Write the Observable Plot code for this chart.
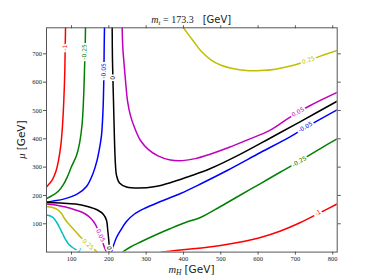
<!DOCTYPE html>
<html><head><meta charset="utf-8">
<script src="https://cdn.jsdelivr.net/npm/d3@7"></script>
<script src="https://cdn.jsdelivr.net/npm/@observablehq/plot@0.6"></script>
<style>body{margin:0;background:#fff}</style>
</head><body><div id="chart"></div>
<script>
// Tick values
const xTicks = [100, 200, 300, 400, 500, 600, 700, 800];
const yTicks = [100, 200, 300, 400, 500, 600, 700];

// Contour levels and colours
const levels = [-1, -0.25, -0.05, 0, 0.05, 0.25, 1];
const levelColors = ["#ff0000", "#008000", "#0000ff", "#000000", "#bf00bf", "#bfbf00", "#00bfbf"];

// Contour branches: [mH, mu]
const red_upper = [[84,792],[83.2,729],[82.1,641],[79.4,535],[75.9,447],[71.9,383],[65.2,323.5],[59,288],[49.9,258.7],[41,242],[33,230]];
const red_lower = [[341.1,0],[378.6,5.6],[418.8,11],[459,16.2],[499.2,23.3],[552.8,35.7],[606.4,51.5],[660,74.5],[713.5,104.5],[761.8,136.3],[811.8,169.8]];
const green_upper = [[137.5,792],[136.7,729],[134.8,641],[132.1,535],[128.1,447],[121.4,383],[113.4,341],[100,302],[89.3,267],[78.6,239],[65.2,216],[49.1,200],[33,189]];
const green_lower = [[236.6,0],[258,18],[284.9,35.7],[325,60.4],[365.2,83.3],[405.4,104.5],[445.6,122],[499.2,161],[552.8,201.6],[606.4,242],[660,282.8],[713.5,323.3],[767,365.7],[811.8,400]];
const blue_upper = [[188.4,792],[187.6,729],[186.5,605],[184.4,500],[180.4,412],[175,366],[168.3,323],[157.6,277.5],[140.2,231.6],[116.1,205.7],[81.2,188],[49.1,180],[33,177]];
const blue_lower = [[207.2,0],[212.5,23.3],[220.6,51.5],[231.3,76.2],[247.3,108],[268.8,134.5],[298.2,155.7],[338.4,178.6],[392,206.9],[445.6,240.4],[517.1,288],[606.4,351.6],[686.7,408],[726.9,439.8],[811.8,502.3]];
const black_upper = [[209,792],[209.8,676],[212.5,535],[215.2,394],[217.9,305.7],[220.6,271],[228.6,244],[247.3,230],[279.5,226],[325,231.6],[370.6,247.5],[418.8,268.6],[472.4,295],[552.8,346],[633,403],[713.5,461],[811.8,532.7]];
const black_lower = [[33,175],[70.5,173.3],[110.7,169.8],[142.9,161],[169.7,148.6],[185.7,132.7],[193.8,112.2],[197.2,76.2],[199.9,41],[201.8,0]];
const magenta_upper = [[235.8,792],[237.2,729],[240.1,676],[244.7,606],[250,535],[258,482],[268.8,440],[284.9,394],[306.3,362],[333.1,339],[365.2,325],[397.4,323],[432.2,330],[469.4,344.5],[523,370],[576.5,399],[630.1,429],[683.7,475],[737.2,516],[811.8,564]];
const magenta_lower = [[33,169.8],[57.1,166.3],[83.9,159.2],[110.7,148.6],[134.8,136.3],[150.9,120.4],[164.3,97.4],[175,65.7],[183,37.4],[188.4,16.2],[193.8,0]];
const yellow_upper = [[400,792],[413.4,768],[429.5,740],[448.3,708],[472.4,680],[499.2,660.5],[531.3,648],[568.8,641],[606.4,641],[646.5,646],[686.7,657],[726.9,673],[767,692],[811.8,712]];
const yellow_lower = [[33,161],[49.1,157.4],[62.5,150.4],[73.2,136.3],[81.2,118.6],[89.3,104.5],[100,88.6],[113.4,69.2],[124.1,53.3],[140.2,33.9],[156.3,14.5],[169.7,0]];
const cyan_lower = [[33,131],[43.7,127.4],[51.8,120.4],[59.8,106.3],[67.9,86.8],[75.9,65.7],[83.9,44.5],[92,28.6],[102.7,16.2],[113.4,7.4],[124.1,0]];

const branches = [
  [red_upper, 0], [red_lower, 0],
  [green_upper, 1], [green_lower, 1],
  [blue_upper, 2], [blue_lower, 2],
  [black_upper, 3], [black_lower, 3],
  [magenta_upper, 4], [magenta_lower, 4],
  [yellow_upper, 5], [yellow_lower, 5],
  [cyan_lower, 6]
];

// Inline contour labels
const labelText  = ["-1", "-0.25", "-0.05", "0", "0.05", "-0.05", "-0.25", "-1", "0.25", "0", "0.05", "0.25", "1"];
const labelLevel = [0, 1, 2, 3, 4, 2, 1, 0, 5, 3, 4, 5, 6];
const labelMH    = [82.6, 134.8, 186.5, 210.6, 706.8, 726.9, 710.8, 760.4, 734.9, 201, 177.7, 144.2, 121.4];
const labelMu    = [722, 707, 640, 615, 494.6, 441.6, 319.8, 138, 678, 14.5, 58.6, 26.8, 5.6];
const labelAngle = [-89, -89, -89, -89, -29, -29, -31, -27, -20, 85, 65, 42, 35];

const lineMarks = branches.map(([pts, li]) =>
  Plot.line(pts, {x: d => d[0], y: d => d[1], stroke: levelColors[li], strokeWidth: 1.5, curve: "catmull-rom", clip: true})
);
const idx = labelText.map((_, i) => i);

const chart = Plot.plot({
  width: 374, height: 280,
  marginLeft: 46, marginRight: 37.3, marginTop: 27.3, marginBottom: 28.4,
  x: {domain: [33, 812]},
  y: {domain: [0, 792]},
  color: {type: "identity"},
  style: {fontFamily: "Liberation Serif", fontSize: "6.5px", background: "white", color: "#222"},
  marks: [
    ...lineMarks,
    Plot.text(idx, {
      x: i => labelMH[i], y: i => labelMu[i], text: i => labelText[i],
      rotate: i => labelAngle[i], fill: i => levelColors[labelLevel[i]],
      stroke: "white", strokeWidth: 3.5, fontSize: 6, fontFamily: "DejaVu Sans"
    }),
    Plot.frame({stroke: "#555", strokeWidth: 1}),
    Plot.axisX({ticks: xTicks, tickSize: 3, tickPadding: 1.5, label: null, stroke: "#555"}),
    Plot.axisX({anchor: "top", ticks: xTicks, tickSize: 3, tickFormat: () => "", label: null, stroke: "#555"}),
    Plot.axisY({ticks: yTicks, tickSize: 3, tickPadding: 1.5, label: null, stroke: "#555"}),
    Plot.axisY({anchor: "right", ticks: yTicks, tickSize: 3, tickFormat: () => "", label: null, stroke: "#555"})
  ]
});
document.getElementById("chart").appendChild(chart);

const svg = d3.select(chart);
// Title
const t = svg.append("text").attr("x", 191.3).attr("y", 23).attr("text-anchor", "middle")
  .attr("font-size", 10).attr("fill", "#222").style("white-space", "pre");
t.append("tspan").attr("font-family", "Liberation Serif").attr("font-style", "italic").text("m");
t.append("tspan").attr("font-family", "Liberation Serif").attr("font-style", "italic").attr("font-size", 7).attr("dy", 2).text("t");
t.append("tspan").attr("font-family", "Liberation Serif").attr("dy", -2).text(" = 173.3");
t.append("tspan").attr("font-family", "DejaVu Sans").attr("dx", 9).text("[GeV]");
// x label
const xl = svg.append("text").attr("x", 191.5).attr("y", 273).attr("text-anchor", "middle")
  .attr("font-size", 10.5).attr("fill", "#222").style("white-space", "pre");
xl.append("tspan").attr("font-family", "Liberation Serif").attr("font-style", "italic").text("m");
xl.append("tspan").attr("font-family", "Liberation Serif").attr("font-style", "italic").attr("font-size", 7.5).attr("dy", 2).text("H");
xl.append("tspan").attr("font-family", "DejaVu Sans").attr("dy", -2).attr("dx", 3).text("[GeV]");
// y label
const yl = svg.append("text").attr("transform", "translate(25,139.5) rotate(-90)").attr("text-anchor", "middle")
  .attr("font-size", 10.5).attr("fill", "#222").style("white-space", "pre");
yl.append("tspan").attr("font-family", "Liberation Serif").attr("font-style", "italic").text("μ");
yl.append("tspan").attr("font-family", "DejaVu Sans").attr("dx", 3).text("[GeV]");
</script>
</body></html>
